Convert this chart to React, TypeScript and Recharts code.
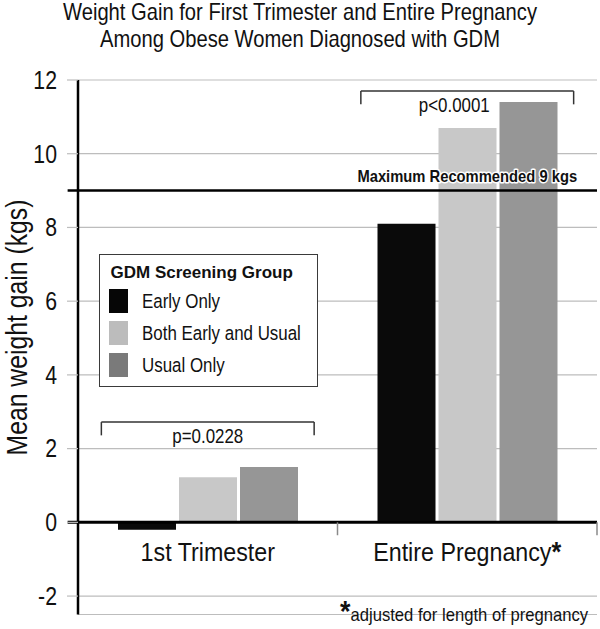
import React from 'react';
import { BarChart, Bar, XAxis, YAxis, CartesianGrid, ReferenceLine, ReferenceDot, Legend } from 'recharts';

const SANS = '"Liberation Sans", Arial, Helvetica, sans-serif';

// ---- data ----
const categories = ['1st Trimester', 'Entire Pregnancy'];
const categoryPositions = [0.5, 1.5];
const earlyOnly = [-0.2, 8.1];
const bothEarlyAndUsual = [1.22, 10.7];
const usualOnly = [1.5, 11.4];
const seriesKeys = ['early', 'both', 'usual'];
const seriesNames = ['Early Only', 'Both Early and Usual', 'Usual Only'];
const seriesColors = ['#0a0a0a', '#c8c8c8', '#969696'];
const legendSwatchColors = ['#060606', '#bcbcbc', '#7a7a7a'];
const legendTitle = 'GDM Screening Group';
const yTicks = [-2, 0, 2, 4, 6, 8, 10, 12];
const pValueLabels = ['p=0.0228', 'p<0.0001'];
const pValueShift = [0, -0.05];
const bracketLevels = [2.72, 11.7];
const maxRecommended = 9;
const maxRecommendedLabel = 'Maximum Recommended 9 kgs';
const titleLines = ['Weight Gain for First Trimester and Entire Pregnancy', 'Among Obese Women Diagnosed with GDM'];
const yAxisTitle = 'Mean weight gain (kgs)';
const footnote = 'adjusted for length of pregnancy';
const adjustedCategory = [false, true];

const data = categories.map((name, i) => ({
  name,
  x: categoryPositions[i],
  early: earlyOnly[i],
  both: bothEarlyAndUsual[i],
  usual: usualOnly[i],
}));

const BRACKET_HALF = 0.41;
const BRACKET_LEG = 0.36;

// condensed text (the reference uses a narrow face)
const NText = ({ x, y, size, scale = 1, anchor = 'middle', weight = 'normal', rotate = 0, halo = false, children }: any) => (
  <text
    transform={`translate(${x},${y})${rotate ? ` rotate(${rotate})` : ''} scale(${scale},1)`}
    x={0}
    y={0}
    textAnchor={anchor}
    fontFamily={SANS}
    fontSize={size}
    fontWeight={weight}
    fill="#111"
    stroke={halo ? '#fff' : undefined}
    strokeWidth={halo ? 3 : undefined}
    paintOrder="stroke"
    strokeLinejoin="round"
  >
    {children}
  </text>
);

const LegendBox = ({ payload }: any) => {
  const items = [...(payload || [])].sort(
    (a: any, b: any) => seriesNames.indexOf(a.value) - seriesNames.indexOf(b.value)
  );
  return (
    <div
      style={{
        position: 'relative',
        width: 219,
        height: 133,
        boxSizing: 'border-box',
        border: '1.5px solid #3a3a3a',
        background: '#fff',
        fontFamily: SANS,
        color: '#111',
      }}
    >
      <div style={{ position: 'absolute', left: 10.5, top: 8, fontWeight: 'bold', fontSize: 17, lineHeight: '20px', whiteSpace: 'nowrap' }}>
        {legendTitle}
      </div>
      {items.map((p: any, i: number) => (
        <div key={i} style={{ position: 'absolute', left: 8.5, top: 33.5 + i * 32, height: 24, display: 'flex', alignItems: 'center', whiteSpace: 'nowrap' }}>
          <span style={{ width: 19, height: 24, background: legendSwatchColors[seriesNames.indexOf(p.value)], display: 'inline-block' }} />
          <span
            style={{
              marginLeft: 14,
              fontSize: 20.5,
              lineHeight: '24px',
              display: 'inline-block',
              transform: 'scaleX(0.825)',
              transformOrigin: 'left center',
            }}
          >
            {p.value}
          </span>
        </div>
      ))}
    </div>
  );
};

const centeredText = (value: string, opts: any) => ({ viewBox }: any) => {
  const cx = viewBox.x + (viewBox.width || 0) / 2;
  const cy = viewBox.y + (viewBox.height || 0) / 2;
  return (
    <NText x={cx} y={cy} size={opts.size} scale={opts.scale} weight={opts.weight} halo={opts.halo}>
      {value}
      {opts.star ? (
        <tspan fontWeight="bold" fontSize={opts.size * 1.08}>*</tspan>
      ) : null}
    </NText>
  );
};

const YTick = ({ x, y, payload }: any) => (
  <NText x={x} y={y + 25 * 0.355} size={25} scale={0.85} anchor="end">
    {payload.value}
  </NText>
);

export default function App() {
  return (
    <div style={{ position: 'absolute', left: 0, top: 0, width: 600, height: 629 }}>
      <BarChart
        width={600}
        height={629}
        data={data}
        margin={{ top: 80, right: 3, bottom: 14.5, left: 18 }}
        barSize={58}
        barGap={3}
      >
        <CartesianGrid horizontal vertical={false} stroke="#bdbdbd" strokeWidth={1.2} />
        <XAxis dataKey="x" type="number" domain={[0, 2]} ticks={categoryPositions} hide />
        <YAxis
          type="number"
          domain={[-2.5, 12]}
          ticks={yTicks}
          interval={0}
          width={60}
          allowDataOverflow
          axisLine={{ stroke: '#000', strokeWidth: 2.5 }}
          tickLine={{ stroke: '#bdbdbd', strokeWidth: 1.2 }}
          tickSize={11}
          tickMargin={10}
          tick={<YTick />}
        />
        {seriesKeys.map((k, i) => (
          <Bar key={k} dataKey={k} name={seriesNames[i]} fill={seriesColors[i]} isAnimationActive={false} />
        ))}
        <Legend
          layout="horizontal"
          verticalAlign="middle"
          align="center"
          content={<LegendBox />}
          wrapperStyle={{ position: 'absolute', left: 99, top: 254, width: 219, height: 133 }}
        />
        {/* zero axis line */}
        <ReferenceLine segment={[{ x: -0.04, y: 0 }, { x: 2, y: 0 }]} stroke="#000" strokeWidth={3} ifOverflow="visible" />
        {/* category boundary ticks */}
        {[1, 2].map((b) => (
          <ReferenceLine key={'ct' + b} segment={[{ x: b, y: 0 }, { x: b, y: -0.35 }]} stroke="#8a8a8a" strokeWidth={1.5} ifOverflow="visible" />
        ))}
        {/* maximum recommended line */}
        <ReferenceLine
          segment={[{ x: -0.04, y: maxRecommended }, { x: 2, y: maxRecommended }]}
          stroke="#000"
          strokeWidth={2.5}
          ifOverflow="visible"
        />
        <ReferenceDot
          x={1.5}
          y={maxRecommended + 0.23}
          r={0}
          fill="none"
          stroke="none"
          label={{ content: centeredText(maxRecommendedLabel, { size: 16.5, scale: 0.895, weight: 'bold', halo: true }) } as any}
        />
        {/* significance brackets */}
        {categoryPositions.map((c, i) => {
          const l = c - BRACKET_HALF;
          const r = c + BRACKET_HALF;
          const top = bracketLevels[i];
          const bottom = top - BRACKET_LEG;
          return [
            <ReferenceLine key={'bt' + i} segment={[{ x: l, y: top }, { x: r, y: top }]} stroke="#333" strokeWidth={1.5} ifOverflow="visible" />,
            <ReferenceLine key={'bl' + i} segment={[{ x: l, y: top }, { x: l, y: bottom }]} stroke="#333" strokeWidth={1.5} ifOverflow="visible" />,
            <ReferenceLine key={'br' + i} segment={[{ x: r, y: top }, { x: r, y: bottom }]} stroke="#333" strokeWidth={1.5} ifOverflow="visible" />,
            <ReferenceDot
              key={'bp' + i}
              x={c + pValueShift[i]}
              y={top - 0.57}
              r={0}
              fill="none"
              stroke="none"
              label={{ content: centeredText(pValueLabels[i], { size: 20.5, scale: 0.825 }) } as any}
            />,
          ];
        })}
        {/* category labels */}
        {categoryPositions.map((c, i) => (
          <ReferenceDot
            key={'cl' + i}
            x={c}
            y={-1.04}
            r={0}
            fill="none"
            stroke="none"
            label={{ content: centeredText(categories[i], { size: 25, scale: 0.93, star: adjustedCategory[i] }) } as any}
          />
        ))}
      </BarChart>
      <svg width={600} height={629} style={{ position: 'absolute', left: 0, top: 0, pointerEvents: 'none' }}>
        {titleLines.map((t, i) => (
          <NText key={i} x={300} y={20 + i * 27} size={23} scale={0.878}>
            {t}
          </NText>
        ))}
        <NText x={27} y={327.5} rotate={-90} size={30} scale={0.825}>
          {yAxisTitle}
        </NText>
        <text transform="translate(340,621) scale(0.925,1)" x={0} y={0} fontFamily={SANS} fill="#111">
          <tspan fontWeight="bold" fontSize={29}>*</tspan>
          <tspan fontSize={18}>{footnote}</tspan>
        </text>
      </svg>
    </div>
  );
}
